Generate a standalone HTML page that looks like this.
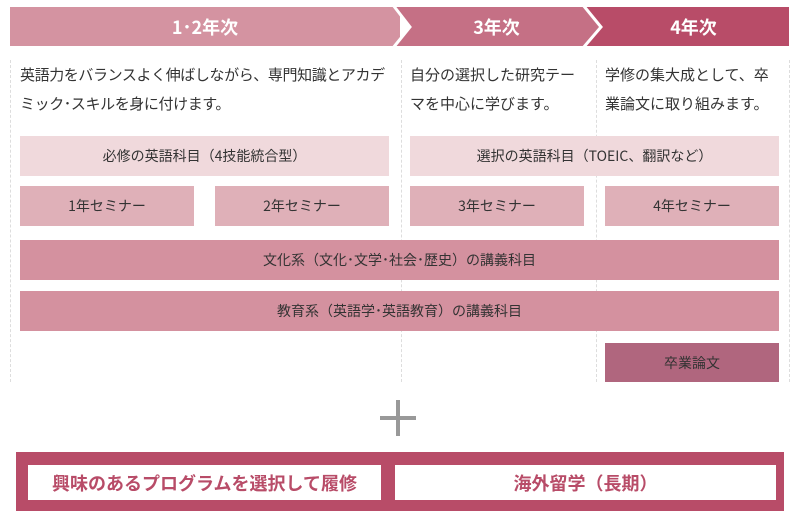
<!DOCTYPE html>
<html><head><meta charset="utf-8"><style>
body{margin:0;width:800px;height:520px;background:#fff;font-family:"Noto Sans CJK JP","Liberation Sans",sans-serif;position:relative;overflow:hidden;color:#333}
.b{position:absolute;display:flex;align-items:center;justify-content:center;font-size:14px;z-index:2}
.t{position:absolute;font-size:15px;line-height:29px;color:#333;white-space:nowrap}
.d{position:absolute;top:60px;height:322px;border-left:1px dashed #ddd;z-index:1}
.h{position:absolute;top:7px;height:39px;display:flex;align-items:center;justify-content:center;color:#fff;font-size:18px;font-weight:bold}
</style></head><body>
<svg style="position:absolute;left:0;top:0" width="800" height="50">
<rect x="10" y="7" width="390" height="39" fill="#d493a1"/>
<polygon points="393,7 590,7 601,27 590,46 393,46 410,27" fill="#c57085"/>
<polygon points="583,7 789,7 789,46 583,46 601,27" fill="#b84c68"/>
<polyline points="393,5 410,27 393,48" fill="none" stroke="#fff" stroke-width="3"/>
<polyline points="583,5 601,27 583,48" fill="none" stroke="#fff" stroke-width="3"/>
</svg>
<div class="h" style="left:10px;width:390px">1･2年次</div>
<div class="h" style="left:405px;width:183px">3年次</div>
<div class="h" style="left:598px;width:191px">4年次</div>
<div class="d" style="left:10px"></div><div class="d" style="left:401px"></div><div class="d" style="left:596px"></div><div class="d" style="left:789px"></div>
<div class="t" style="left:20px;top:60px;letter-spacing:-0.4px">英語力をバランスよく伸ばしながら、専門知識とアカデ<br>ミック･スキルを身に付けます。</div>
<div class="t" style="left:410px;top:60px">自分の選択した研究テー<br>マを中心に学びます。</div>
<div class="t" style="left:605px;top:60px">学修の集大成として、卒<br>業論文に取り組みます。</div>
<div class="b" style="left:20px;top:136px;width:369px;height:40px;background:#f0d9dc">必修の英語科目（4技能統合型）</div>
<div class="b" style="left:410px;top:136px;width:369px;height:40px;background:#f0d9dc">選択の英語科目（TOEIC、翻訳など）</div>
<div class="b" style="left:20px;top:186px;width:174px;height:40px;background:#dfb0b8">1年セミナー</div>
<div class="b" style="left:215px;top:186px;width:174px;height:40px;background:#dfb0b8">2年セミナー</div>
<div class="b" style="left:410px;top:186px;width:174px;height:40px;background:#dfb0b8">3年セミナー</div>
<div class="b" style="left:605px;top:186px;width:174px;height:40px;background:#dfb0b8">4年セミナー</div>
<div class="b" style="left:20px;top:240px;width:759px;height:40px;background:#d4919f">文化系（文化･文学･社会･歴史）の講義科目</div>
<div class="b" style="left:20px;top:291px;width:759px;height:40px;background:#d4919f">教育系（英語学･英語教育）の講義科目</div>
<div class="b" style="left:605px;top:343px;width:174px;height:39px;background:#b0667e">卒業論文</div>
<div style="position:absolute;left:396px;top:400px;width:4px;height:36px;background:#999"></div>
<div style="position:absolute;left:380px;top:416px;width:36px;height:4px;background:#999"></div>
<div style="position:absolute;left:16px;top:452px;width:768px;height:59px;background:#b84c68"></div>
<div class="b" style="left:28px;top:465px;width:353px;height:35px;background:#fff;color:#b84c68;font-size:18px;font-weight:bold">興味のあるプログラムを選択して履修</div>
<div class="b" style="left:395px;top:465px;width:381px;height:35px;background:#fff;color:#b84c68;font-size:18px;font-weight:bold">海外留学（長期）</div>
</body></html>
